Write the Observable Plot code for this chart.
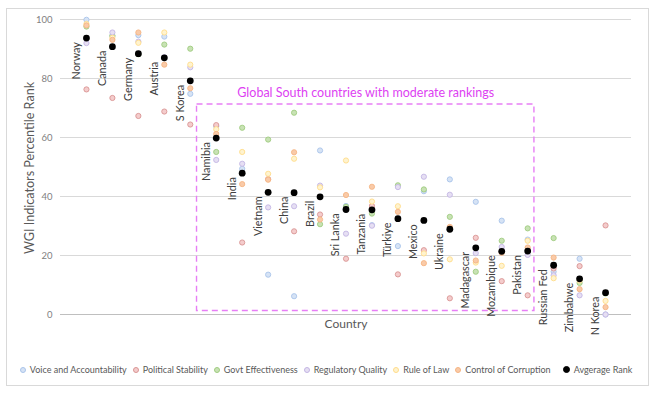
<!DOCTYPE html>
<html>
<head>
<meta charset="utf-8">
<script src="https://cdn.jsdelivr.net/npm/d3@7"></script>
<script src="https://cdn.jsdelivr.net/npm/@observablehq/plot@0.6"></script>
<style>
  body { margin: 0; background: #fff; }
  #wrap { position: relative; width: 662px; height: 398px; font-family: Lato, "Liberation Sans", sans-serif; }
  #frame { position: absolute; left: 6px; top: 8px; width: 643px; height: 378px; border: 1px solid #d9d9d9; box-sizing: border-box; }
  #chart { position: absolute; left: 0; top: 0; }
  #ytitle { position: absolute; left: 30px; top: 168px; transform: translate(-50%, -50%) rotate(-90deg); font-size: 12.6px; color: #595959; white-space: nowrap; line-height: 1; }
  #legend { position: absolute; left: -5px; top: 364px; width: 662px; display: flex; justify-content: center; align-items: center; font-size: 9px; color: #595959; white-space: nowrap; }
  .item { display: flex; align-items: center; margin: 0 3px; }
  .mk { width: 4px; height: 4px; border-radius: 50%; border: 1px solid; margin-right: 4px; }
</style>
</head>
<body>
<div id="wrap">
  <div id="frame"></div>
  <div id="chart"></div>
  <div id="ytitle"></div>
  <div id="legend"></div>
</div>
<script>
const countries = ["Norway","Canada","Germany","Austria","S Korea","Namibia","India","Vietnam","China","Brazil","Sri Lanka","Tanzania","Türkiye","Mexico","Ukraine","Madagascar","Mozambique","Pakistan","Russian Fed","Zimbabwe","N Korea"];
const voice      = [99.9, 94.4, 94.7, 94.2, 74.8, 63.8, 49.4, 13.5, 6.2, 55.6, 36.8, 30.3, 23.2, 41.8, 45.8, 38.2, 31.8, 25.4, 14.5, 18.9, 0];
const political  = [76.3, 73.4, 67.3, 68.8, 64.4, 64.2, 24.4, 45.9, 28.2, 33.9, 18.9, 36.8, 13.6, 21.8, 5.5, 26.0, 11.3, 6.5, 15.6, 16.4, 30.2];
const govt       = [97.6, 94.5, 88.2, 91.5, 90.1, 55.1, 63.3, 59.3, 68.4, 30.6, 36.5, 34.2, 43.8, 42.4, 33.1, 14.5, 25.0, 29.2, 25.9, 10.7, 7.1];
const regulatory = [92.0, 95.6, 92.5, 87.2, 83.8, 52.4, 51.1, 36.3, 36.7, 43.7, 27.4, 30.1, 43.2, 46.7, 40.6, 20.8, 22.9, 20.2, 13.3, 6.5, 0];
const ruleOfLaw  = [98.5, 93.8, 92.1, 95.6, 84.7, 62.8, 55.1, 47.7, 52.8, 43.1, 52.2, 38.3, 36.7, 20.7, 18.7, 17.6, 16.5, 25.0, 12.3, 11.5, 4.6];
const corruption = [98.0, 93.1, 95.6, 84.7, 76.7, 61.2, 44.2, 45.7, 55.0, 32.2, 40.5, 43.3, 34.8, 17.4, 29.7, 18.3, 20.9, 22.7, 19.3, 8.6, 2.5];
const average    = [93.7, 90.8, 88.4, 87.0, 79.2, 59.8, 47.9, 41.4, 41.3, 39.9, 35.6, 35.5, 32.5, 31.9, 28.9, 22.6, 21.4, 21.5, 16.7, 12.1, 7.4];
const yTicks = [0, 20, 40, 60, 80, 100];
const seriesNames = ["Voice and Accountability","Political Stability","Govt Effectiveness","Regulatory Quality","Rule of Law","Control of Corruption","Avgerage Rank"];
const yTitle = "WGI Indicators Percentile Rank";
const xTitle = "Country";
const highlightBox = {x1: 5.26, x2: 18.26, y1: 1.2, y2: 71.2, label: "Global South countries with moderate rankings"};

const styles = [
  {fill: "#d6e3f5", stroke: "#a9c4ea"},
  {fill: "#f4cccc", stroke: "#d99594"},
  {fill: "#c8e2b4", stroke: "#9fcc80"},
  {fill: "#e6dff3", stroke: "#c3b5e3"},
  {fill: "#fff3cf", stroke: "#ffdc8a"},
  {fill: "#f9caa8", stroke: "#f5b482"},
  {fill: "#000000", stroke: "#000000"}
];
const seriesValues = [voice, political, govt, regulatory, ruleOfLaw, corruption, average];

const rows = countries.map((c, i) => ({country: c, idx: i + 1, avg: average[i]}));

const dotMarks = seriesValues.map((vals, s) =>
  Plot.dot(vals.map((v, i) => ({idx: i + 1, value: v})), {
    x: "idx", y: "value",
    r: s === 6 ? 3.4 : 2.6,
    fill: styles[s].fill, stroke: styles[s].stroke, strokeWidth: s === 6 ? 0 : 0.9
  })
);

const chart = Plot.plot({
  width: 662, height: 345,
  marginLeft: 60, marginRight: 31, marginTop: 19, marginBottom: 31,
  style: {fontFamily: "Lato, 'Liberation Sans', sans-serif", fontSize: "9.5px", color: "#7f7f7f", background: "transparent"},
  x: {domain: [0, 22], axis: null},
  y: {domain: [0, 100], ticks: yTicks, tickSize: 0, tickPadding: 8, label: null},
  marks: [
    Plot.ruleY(yTicks.filter(d => d > 0), {stroke: "#d9d9d9"}),
    Plot.ruleY([0], {stroke: "#bfbfbf"}),
    Plot.rect([highlightBox], {x1: "x1", x2: "x2", y1: "y1", y2: "y2", fill: "none", stroke: "#e77ff5", strokeWidth: 1.4, strokeDasharray: "6,4"}),
    Plot.text([highlightBox], {x: d => (d.x1 + d.x2) / 2, y: "y2", text: "label", dy: -11, fill: "#dd3ff2", fontSize: 12.5}),
    ...dotMarks,
    Plot.text(rows, {x: "idx", y: "avg", text: "country", rotate: -90, textAnchor: "end", dx: -10, dy: 4, fill: "#404040", fontSize: 10.8}),
    Plot.text([xTitle], {frameAnchor: "bottom", dy: 13, fill: "#595959", fontSize: 12})
  ]
});
document.getElementById("chart").appendChild(chart);
document.getElementById("ytitle").textContent = yTitle;

const legend = document.getElementById("legend");
seriesNames.forEach((name, s) => {
  const it = document.createElement("div");
  it.className = "item";
  if (s === 6) it.style.marginLeft = "9px";
  const mk = document.createElement("span");
  mk.className = "mk";
  mk.style.background = styles[s].fill;
  mk.style.borderColor = styles[s].stroke;
  if (s === 6) { mk.style.width = "5px"; mk.style.height = "5px"; }
  const tx = document.createElement("span");
  tx.textContent = name;
  it.appendChild(mk); it.appendChild(tx);
  legend.appendChild(it);
});
</script>
</body>
</html>
